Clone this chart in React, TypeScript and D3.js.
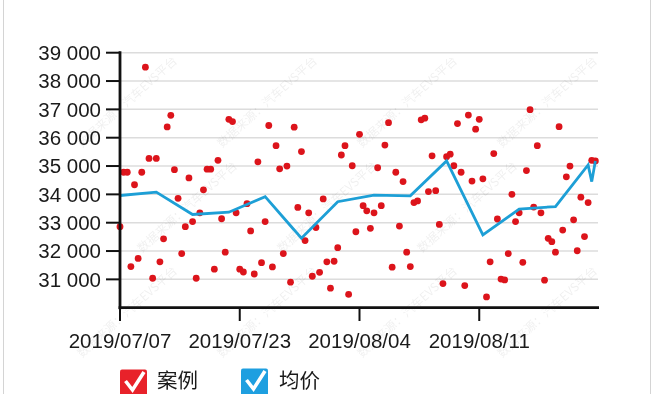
import React from "react";
import * as d3 from "d3";

// Case prices, one per case in date order (x = case index)
const casePrices = [
  32860, 34780, 34780, 31450, 34340, 31740, 34780, 38490, 35270, 31040,
  35270, 31620, 32430, 36380, 36790, 34870, 33860, 31910, 32860, 34580,
  33040, 31040, 33350, 34160, 34890, 34890, 31360, 35200, 33140, 31960,
  36650, 36570, 33350, 31360, 31260, 33670, 32710, 31190, 35150, 31590,
  33040, 36430, 31440, 35720, 34900, 31910, 35000, 30900, 36370, 33540,
  35510, 32370, 33350, 31110, 32830, 31250, 33840, 31620, 30690, 31640,
  32120, 35390, 35720, 30470, 35010, 32680, 36120, 33600, 33420, 32800,
  33350, 34940, 33600, 35740, 36530, 31430, 34780, 32880, 34450, 31960,
  31450, 33710, 33770, 36630, 36690, 34100, 35360, 34130, 32940, 30850,
  35330, 35420, 35010, 36500, 34780, 30780, 36800, 34470, 36300, 36650,
  34550, 30380, 31620, 35440, 33130, 31010, 30980, 31910, 34000, 33040,
  33350, 31600, 34840, 36990, 33550, 35720, 33350, 30970, 32450, 32330,
  31960, 36390, 32740, 34620, 35000, 33100, 32010, 33900, 32510, 33710,
  35200, 35180,
];
const caseCount = 133;

// Average price line
const avgIndex = [0, 10, 20, 30, 40, 50, 60, 70, 80, 90, 100, 110, 120, 129, 130, 131];
const avgPrice = [33960, 34080, 33290, 33370, 33920, 32450, 33740, 33970, 33950, 35180, 32570, 33480, 33570, 35040, 34450, 35180];

// Axis ticks
const xTickIndex = [0, 33, 66, 99];
const xTickLabels = ["2019/07/07", "2019/07/23", "2019/08/04", "2019/08/11"];
const yTicks = [31000, 32000, 33000, 34000, 35000, 36000, 37000, 38000, 39000];
const yDomain = [30000, 39000];

const seriesNames = ["案例", "均价"];
const watermarkText = "数据来源：汽车EVS平台";

const W = 656;
const H = 394;
const left = 120;
const right = 599;
const top = 52.7;
const bottom = 307.7;

const fmt = d3
  .formatLocale({ decimal: ".", thousands: " ", grouping: [3], currency: ["", ""] })
  .format(",d");

export default function App() {
  const x = d3.scaleLinear().domain([0, caseCount - 1]).range([left, right]);
  const y = d3.scaleLinear().domain(yDomain).range([bottom, top]);
  const line = d3
    .line<number>()
    .x((_, i) => x(avgIndex[i]))
    .y((d) => y(d));

  const font = "'Liberation Sans', Arial, sans-serif";
  const cjk = "'Noto Sans CJK SC', sans-serif";

  const wm: { cx: number; cy: number }[] = [];
  for (let r = 0; r < 3; r++) {
    for (let c = 0; c < 4; c++) {
      const cx = 130 + c * 140 + (r % 2) * 60;
      const cy = 105 + r * 105;
      if (cx < 600) wm.push({ cx, cy });
    }
  }

  return (
    <div style={{ position: "absolute", left: 0, top: 0 }}>
      <svg width={W} height={H} style={{ display: "block", background: "#fff" }}>
        <line x1={3.5} x2={3.5} y1={0} y2={H} stroke="#d4d4d4" />
        <line x1={650.5} x2={650.5} y1={0} y2={H} stroke="#d4d4d4" />

        {/* grid */}
        {yTicks.map((t) => (
          <line key={t} x1={left} x2={598} y1={y(t)} y2={y(t)} stroke="#dcdcdc" strokeWidth={1.5} />
        ))}

        {/* watermark */}
        <g fontFamily={cjk} fontSize={12} fill="#000" opacity={0.06}>
          {wm.map((p, i) => (
            <text key={i} x={p.cx} y={p.cy} transform={`rotate(-42 ${p.cx} ${p.cy})`} textAnchor="middle">
              {watermarkText}
            </text>
          ))}
        </g>

        {/* scatter */}
        {casePrices.map((v, i) => (
          <circle key={i} cx={x(i)} cy={y(v)} r={3.4} fill="#dc141b" />
        ))}

        {/* avg line */}
        <path d={line(avgPrice) || ""} fill="none" stroke="#1d9fd6" strokeWidth={2.8} strokeLinejoin="miter" />

        {/* y axis */}
        <line x1={left} x2={left} y1={top - 1.5} y2={bottom + 1.5} stroke="#111" strokeWidth={2.8} />
        {yTicks.map((t) => (
          <g key={t}>
            <line x1={106} x2={left} y1={y(t)} y2={y(t)} stroke="#111" strokeWidth={2} />
            <text x={101} y={y(t)} dy="0.36em" textAnchor="end" fontFamily={font} fontSize={20.5} fill="#1a1a1a">
              {fmt(t)}
            </text>
          </g>
        ))}

        {/* x axis */}
        <line x1={left - 1.4} x2={right} y1={bottom} y2={bottom} stroke="#111" strokeWidth={2.8} />
        {xTickIndex.map((t, i) => (
          <g key={t}>
            <line x1={x(t)} x2={x(t)} y1={bottom} y2={321} stroke="#111" strokeWidth={2} />
            <text x={x(t)} y={347.5} textAnchor="middle" fontFamily={font} fontSize={20.5} fill="#1a1a1a">
              {xTickLabels[i]}
            </text>
          </g>
        ))}

        {/* legend */}
        <g>
          <rect x={120} y={369.5} width={27} height={27} rx={2} fill="#e8222a" />
          <path d="M125.5,381 L132.5,390 L144,372" fill="none" stroke="#fff" strokeWidth={3.6} />
          <text x={157} y={388} fontFamily={cjk} fontSize={20.5} fill="#1a1a1a">{seriesNames[0]}</text>
          <rect x={241} y={368.5} width={27} height={27} rx={2} fill="#1e9fe0" />
          <path d="M246.5,380 L253.5,389 L265,371" fill="none" stroke="#fff" strokeWidth={3.6} />
          <text x={279} y={388} fontFamily={cjk} fontSize={20.5} fill="#1a1a1a">{seriesNames[1]}</text>
        </g>
      </svg>
    </div>
  );
}
